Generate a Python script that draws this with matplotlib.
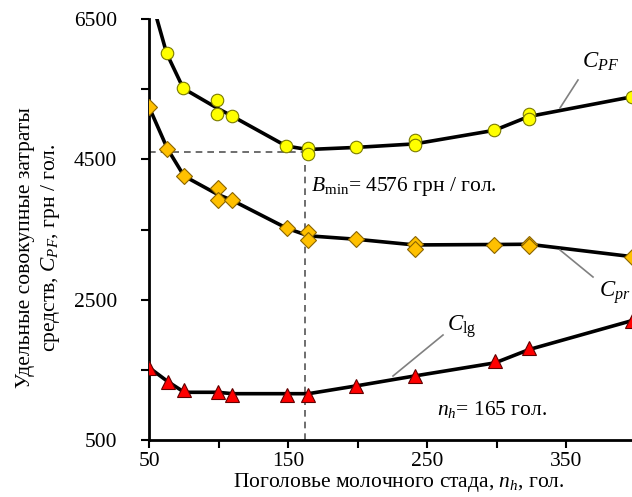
import matplotlib
matplotlib.use("Agg")
import matplotlib.pyplot as plt

plt.rcParams['font.family'] = ['Liberation Serif', 'DejaVu Serif']
plt.rcParams['mathtext.fontset'] = 'custom'
plt.rcParams['mathtext.rm'] = 'Liberation Serif'
plt.rcParams['mathtext.it'] = 'Liberation Serif:italic'

# ---- data ----
cpf_pts_x = [62.7, 74.7, 99, 99, 109.5, 148.6, 164, 164, 199, 241, 241, 298.4, 323, 323, 397]
cpf_pts_y = [6010, 5510, 5343, 5153, 5119, 4690, 4661, 4571, 4676, 4781, 4700, 4914, 5139, 5081, 5390]
cpf_line_x = [50, 62.7, 74.7, 99, 109.5, 148.6, 164, 199, 241, 298.4, 323, 397]
cpf_line_y = [6900, 6010, 5510, 5230, 5119, 4690, 4640, 4670, 4720, 4914, 5110, 5390]

cpr_pts_x = [50, 63.2, 75.2, 99.4, 99.4, 110, 149, 164.6, 164.6, 199, 241, 241, 298.4, 323, 323, 397]
cpr_pts_y = [5247, 4653, 4262, 4090, 3914, 3914, 3519, 3471, 3357, 3361, 3300, 3229, 3286, 3300, 3260, 3114]
cpr_line_x = [50, 63.2, 75.2, 99.4, 110, 149, 164.6, 199, 241, 298.4, 323, 397]
cpr_line_y = [5247, 4653, 4262, 4000, 3914, 3519, 3410, 3361, 3280, 3286, 3290, 3114]

clg_pts_x = [50, 63.5, 75.4, 99.4, 110, 149, 164.6, 199, 241.4, 298.9, 323.4, 397]
clg_pts_y = [1533, 1333, 1210, 1190, 1143, 1143, 1143, 1271, 1414, 1619, 1810, 2200]
clg_line_x = [50, 63.5, 75.4, 99.4, 110, 149, 164.6, 199, 241.4, 298.9, 323.4, 397]
clg_line_y = [1533, 1333, 1180, 1180, 1160, 1160, 1160, 1271, 1414, 1600, 1790, 2200]

n_opt = 162
b_min = 4600

xticks_major = [50, 150, 250, 350]
xticks_minor = [100, 200, 300, 400]
yticks_major = [500, 2500, 4500, 6500]
yticks_minor = [1500, 3500, 5500]

FS = 15.5

fig = plt.figure(figsize=(6.32, 4.97), dpi=100)
ax = fig.add_axes([149/632, 1 - 440/497, 1 - 149/632 + 0.006, (440 - 19)/497])

lw = 2.6
ax.plot(cpf_line_x, cpf_line_y, color='black', lw=lw, zorder=2)
ax.plot(cpr_line_x, cpr_line_y, color='black', lw=lw, zorder=2)
ax.plot(clg_line_x, clg_line_y, color='black', lw=lw, zorder=2)

ax.plot(cpf_pts_x, cpf_pts_y, 'o', ms=9, mfc='#FFFF00', mec='#7a7a00', mew=0.8, zorder=3, linestyle='none')
ax.plot(cpr_pts_x, cpr_pts_y, 'D', ms=8, mfc='#FFC000', mec='#8a6400', mew=0.8, zorder=3, linestyle='none')
ax.plot(clg_pts_x, clg_pts_y, '^', ms=10, mfc='#FF0000', mec='#600000', mew=0.8, zorder=3, linestyle='none')

ax.plot([50, n_opt], [b_min, b_min], color='#555555', lw=1.2, ls=(0, (4, 3)), zorder=1)
ax.plot([n_opt, n_opt], [500, b_min], color='#555555', lw=1.2, ls=(0, (4, 3)), zorder=1)

ax.set_xlim(50, 397.5)
ax.set_ylim(500, 6500)
ax.set_xticks(xticks_major)
ax.set_xticks(xticks_minor, minor=True)
ax.set_yticks(yticks_major)
ax.set_yticks(yticks_minor, minor=True)
ax.tick_params(axis='both', which='both', direction='out', width=1.5, labelsize=FS)
ax.tick_params(axis='both', which='major', length=6)
ax.tick_params(axis='both', which='minor', length=6)
ax.tick_params(axis='y', pad=17)
ax.tick_params(axis='x', pad=3)
for sp in ['top', 'right']:
    ax.spines[sp].set_visible(False)
for sp in ['left', 'bottom']:
    ax.spines[sp].set_linewidth(2)

# annotations
fig.text(311/632, 1 - 187/497, r'$B$' + r'$_{\mathrm{min}}$= 4576 грн / гол.', fontsize=FS, va='center', ha='left')
fig.text(437/632, 1 - 410/497, r'$n_h$= 165 гол.', fontsize=FS, va='center', ha='left')
fig.text(582/632, 1 - 62/497, r'$C_{PF}$', fontsize=FS + 1, va='center', ha='left')
fig.text(599/632, 1 - 293/497, r'$C_{pr}$', fontsize=FS + 1, va='center', ha='left')
fig.text(447/632, 1 - 327/497, r'$C_{\mathrm{lg}}$', fontsize=FS + 1, va='center', ha='left')

for (x0, y0, x1, y1) in [(578, 80, 560, 108), (560, 250, 593, 277), (443, 335, 393, 376)]:
    fig.add_artist(plt.Line2D([x0/632, x1/632], [1 - y0/497, 1 - y1/497], color='#808080', lw=1.2, transform=fig.transFigure))

fig.text(399/632, 1 - 483/497, r'Поголовье молочного стада, $n_h$, гол.', fontsize=FS, ha='center', va='center')
fig.text(26/632, 1 - 248/497, 'Удельные совокупные затраты', fontsize=FS, ha='center', va='center', rotation=90)
fig.text(51/632, 1 - 248/497, r'средств, $C_{PF}$, грн / гол.', fontsize=FS, ha='center', va='center', rotation=90)

fig.savefig('out.png', dpi=100)
